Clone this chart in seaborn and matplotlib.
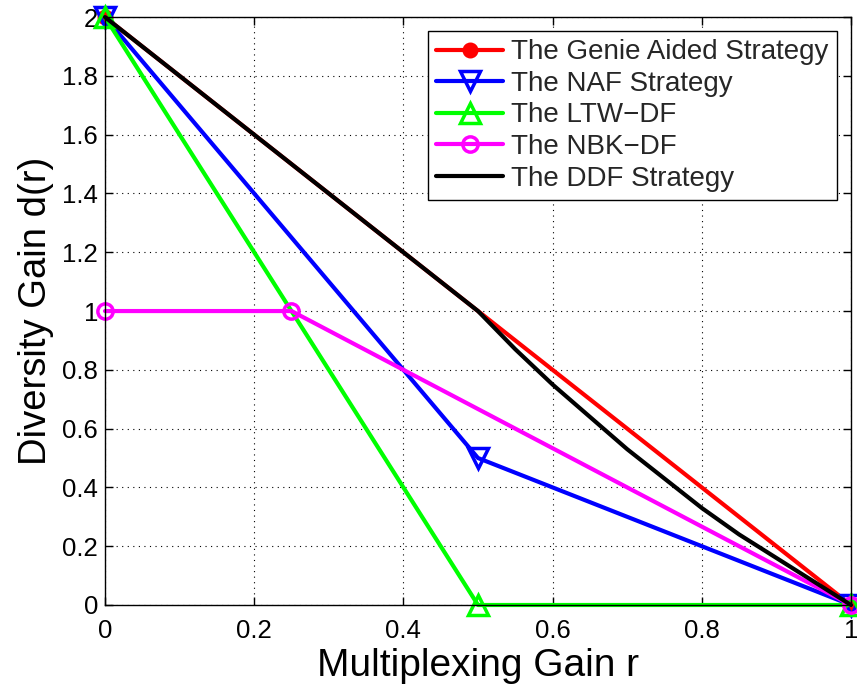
import matplotlib
matplotlib.use("Agg")
import matplotlib.pyplot as plt
import seaborn as sns
import pandas as pd

# Diversity-multiplexing tradeoff curves
genie_r = [0.0, 0.5, 1.0]
genie_d = [2.0, 1.0, 0.0]

naf_r = [0.0, 0.5, 1.0]
naf_d = [2.0, 0.5, 0.0]

ltw_r = [0.0, 0.5, 1.0]
ltw_d = [2.0, 0.0, 0.0]

nbk_r = [0.0, 0.25, 1.0]
nbk_d = [1.0, 1.0, 0.0]

ddf_r = [0.0, 0.5, 0.55, 0.6, 0.65, 0.7, 0.75, 0.8, 0.85, 0.9, 0.95, 1.0]
ddf_d = [2.0, 1.0, 0.87, 0.75, 0.64, 0.53, 0.43, 0.33, 0.24, 0.16, 0.08, 0.0]

labels = ["The Genie Aided Strategy", "The NAF Strategy", "The LTW\u2212DF",
          "The NBK\u2212DF", "The DDF Strategy"]

x_ticks = [0, 0.2, 0.4, 0.6, 0.8, 1]
x_ticklabels = ["0", "0.2", "0.4", "0.6", "0.8", "1"]
y_ticks = [0, 0.2, 0.4, 0.6, 0.8, 1, 1.2, 1.4, 1.6, 1.8, 2]
y_ticklabels = ["0", "0.2", "0.4", "0.6", "0.8", "1", "1.2", "1.4",
                "1.6", "1.8", "2"]

sns.set_theme(style="white")
plt.rcParams["font.family"] = ["Liberation Sans", "DejaVu Sans"]

fig = plt.figure(figsize=(8.57, 6.84), dpi=100)
ax = fig.add_axes([0.1225, 0.1155, 0.8705, 0.8595])

# (r, d, colour, marker, face, size, which points carry a marker, label)
series = [
    (genie_r, genie_d, "#ff0000", "o", "#ff0000", 9, [0, 2], labels[0]),
    (naf_r, naf_d, "#0000ff", "v", "none", 14, None, labels[1]),
    (ltw_r, ltw_d, "#00ff00", "^", "none", 14, None, labels[2]),
    (nbk_r, nbk_d, "#ff00ff", "o", "none", 11, None, labels[3]),
]
for r, d, col, mk, mfc, ms, every, lab in series:
    df = pd.DataFrame({"r": r, "d": d})
    sns.lineplot(data=df, x="r", y="d", ax=ax, sort=False, color=col, lw=3,
                 marker=mk, markersize=ms, markerfacecolor=mfc,
                 markeredgecolor=col, markeredgewidth=2.5, markevery=every,
                 label=lab, clip_on=False)

df = pd.DataFrame({"r": ddf_r, "d": ddf_d})
sns.lineplot(data=df, x="r", y="d", ax=ax, sort=False, color="black", lw=3,
             label=labels[4], clip_on=False)

ax.set_xlim(0, 1)
ax.set_ylim(0, 2)
ax.set_xticks(x_ticks)
ax.set_xticklabels(x_ticklabels)
ax.set_yticks(y_ticks)
ax.set_yticklabels(y_ticklabels)
ax.tick_params(direction="in", length=6, width=1, labelsize=18.5,
               colors="black", top=True, right=True, bottom=True, left=True)
ax.tick_params(axis="x", pad=10)
ax.tick_params(axis="y", pad=5)
ax.grid(True, color="black", linestyle=(0, (1, 4)), linewidth=0.8)
for s in ax.spines.values():
    s.set_visible(True)
    s.set_color("black")
    s.set_linewidth(1)

ax.set_xlabel("Multiplexing Gain r", fontsize=28, color="black", labelpad=4)
ax.set_ylabel("Diversity Gain d(r)", fontsize=27.5, color="black", labelpad=6)

leg = ax.legend(loc="upper right", fontsize=20, frameon=True,
                fancybox=False, edgecolor="black", framealpha=1,
                borderpad=0.3, labelspacing=0.2, handlelength=2.4,
                handletextpad=0.3, borderaxespad=0.5)
leg.get_frame().set_linewidth(1)

fig.savefig("out.png", dpi=100)
